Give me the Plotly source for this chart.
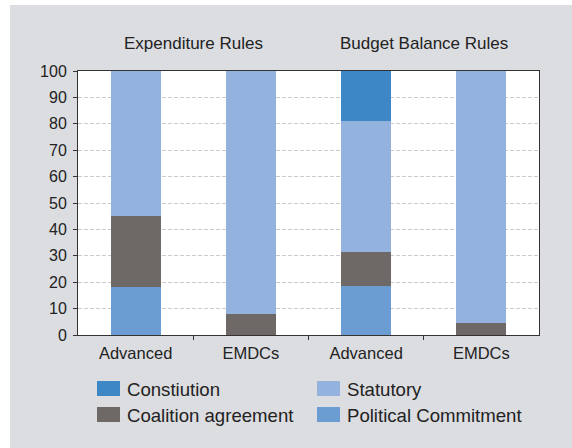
import plotly.graph_objects as go

# Share of fiscal rules by legal basis (percent)
categories = ["Advanced", "EMDCs", "Advanced", "EMDCs"]
group_titles = ["Expenditure Rules", "Budget Balance Rules"]
political_commitment = [18.2, 0.0, 18.6, 0.0]
coalition_agreement = [26.9, 8.0, 12.8, 4.5]
statutory = [54.9, 92.0, 49.7, 95.5]
constitution = [0.0, 0.0, 18.9, 0.0]
y_ticks = [0, 10, 20, 30, 40, 50, 60, 70, 80, 90, 100]

# stacking order bottom -> top
series = [
    ("Political Commitment", political_commitment, "#6b9dd2"),
    ("Coalition agreement", coalition_agreement, "#6e6867"),
    ("Statutory", statutory, "#93b3de"),
    ("Constiution", constitution, "#3d87c6"),
]
# legend reading order (two columns)
legend_order = ["Constiution", "Statutory", "Coalition agreement", "Political Commitment"]

W, H = 572, 448
L, R, T, B = 78, 539, 71, 335
PW, PH = R - L, B - T


def px(x):
    return (x - L) / PW


def py(y):
    return (B - y) / PH


FONT = "Liberation Sans, Arial, sans-serif"
TXT = "#222222"

xs = list(range(len(categories)))
fig = go.Figure()
for name, vals, color in series:
    fig.add_trace(go.Bar(
        x=xs, y=vals, name=name, width=0.434,
        marker=dict(color=color, line=dict(width=0)),
        showlegend=False,
    ))

shapes = [
    # white strips framing the grey panel
    dict(type="rect", xref="paper", yref="paper", x0=px(0), x1=px(10), y0=py(H), y1=py(0),
         fillcolor="white", line=dict(width=0), layer="above"),
    dict(type="rect", xref="paper", yref="paper", x0=px(0), x1=px(W), y0=py(5), y1=py(0),
         fillcolor="white", line=dict(width=0), layer="above"),
]
annotations = []

# group titles above each pair of bars
for i, title in enumerate(group_titles):
    annotations.append(dict(
        x=2 * i + 0.5, xref="x", y=py(43), yref="paper", text=title, showarrow=False,
        xanchor="center", yanchor="middle", font=dict(family=FONT, size=17, color=TXT),
    ))

# legend: swatches and labels in two columns
colors = {n: c for n, _, c in series}
col_x = [97, 317]
row_y = [381, 407]
for k, name in enumerate(legend_order):
    cx = col_x[k % 2]
    ry = row_y[k // 2]
    shapes.append(dict(type="rect", xref="paper", yref="paper",
                       x0=px(cx), x1=px(cx + 23), y0=py(ry + 15), y1=py(ry),
                       fillcolor=colors[name], line=dict(width=0)))
    annotations.append(dict(
        x=px(cx + 28), xref="paper", y=py(ry + 8), yref="paper", text=name, showarrow=False,
        xanchor="left", yanchor="middle", font=dict(family=FONT, size=18.6, color=TXT),
    ))

fig.update_layout(
    width=W, height=H,
    margin=dict(l=L, r=W - R, t=T, b=H - B, pad=0),
    paper_bgcolor="#dcdde0",
    plot_bgcolor="white",
    barmode="stack",
    bargap=0,
    showlegend=False,
    shapes=shapes,
    annotations=annotations,
    font=dict(family=FONT, color=TXT),
)
fig.update_xaxes(
    range=[-0.5, len(categories) - 0.5],
    tickvals=xs, ticktext=categories,
    ticks="outside", ticklen=0, tickcolor="#333",
    minor=dict(tickvals=[0.5, 1.5, 2.5], ticks="outside", ticklen=4, tickcolor="#333", showgrid=False),
    showline=True, linecolor="#333", linewidth=1, mirror=True,
    showgrid=False, zeroline=False,
    ticklabelstandoff=3,
    tickfont=dict(family=FONT, size=16.5, color=TXT),
    fixedrange=True,
)
fig.update_yaxes(
    range=[0, 100], tickvals=y_ticks,
    ticks="outside", ticklen=4, tickcolor="#333",
    showline=True, linecolor="#333", linewidth=1, mirror=True,
    showgrid=True, gridcolor="#cccccc", griddash="4px,2px", gridwidth=1,
    zeroline=False,
    ticklabelstandoff=3,
    tickfont=dict(family=FONT, size=16, color=TXT),
    fixedrange=True,
)

fig.write_html("out.html")
